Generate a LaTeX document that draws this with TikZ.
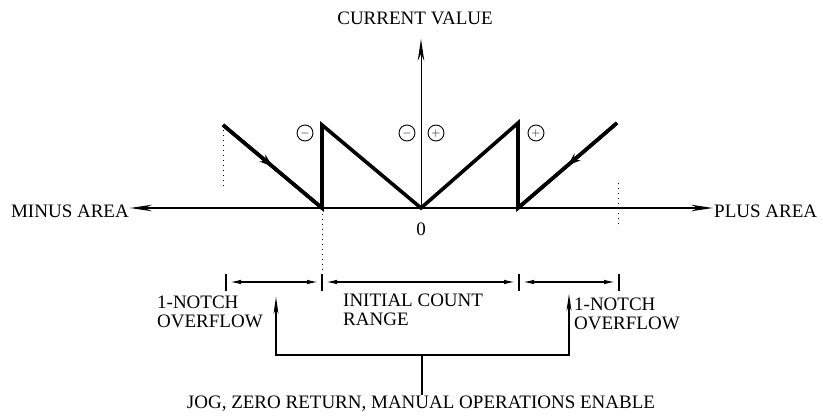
\documentclass[tikz,border=0pt]{standalone}
\usepackage{fontspec}
\setmainfont{Liberation Serif}
\usetikzlibrary{arrows.meta, decorations.markings, calc}

\begin{document}
\begin{tikzpicture}[x=1pt, y=-1pt,
  lbl/.style   = {font=\fontsize{19}{18.5}\selectfont, inner sep=1pt, align=left},
  axis/.style  = {line width=1.6pt, -{Stealth[length=22pt, width=6.5pt]}},
  saw/.style   = {line width=3.6pt, line join=miter},
  midarr/.style= {decoration={markings, mark=at position 0.5 with
                  {\arrow{Stealth[length=13pt, width=9pt]}}}, postaction=decorate},
  dots/.style  = {line width=1pt, dash pattern=on 1pt off 4pt},
  dim/.style   = {line width=1.2pt, {Latex[length=11pt, width=4.5pt]}-{Latex[length=11pt, width=4.5pt]},
                  shorten <=4pt, shorten >=4pt},
  brk/.style   = {line width=1.2pt, {Stealth[length=17pt, width=5pt]}-{Stealth[length=17pt, width=5pt]}},
  sign/.style  = {circle, draw, line width=0.9pt, inner sep=0pt, minimum size=16pt,
                  font=\fontsize{13}{13}\selectfont},
]
\useasboundingbox (0,0) rectangle (823,418);

% ── Axes ───────────────────────────────────────────────────────────────────
\coordinate (o)  at (421,208);
\coordinate (yt) at (421,39);
\node[lbl, anchor=east] (minus) at (130,211) {MINUS AREA};
\node[lbl, anchor=west] (plus)  at (713,211) {PLUS AREA};
\node[lbl]              (cv)    at (415,18)  {CURRENT VALUE};
\node[lbl]              (zero)  at (421,229) {0};
\draw[axis] (o) -- (minus.east |- o);
\draw[axis] (o) -- (plus.west |- o);
\draw[axis, line width=1pt] (o) -- (yt);

% ── Saw-tooth count ────────────────────────────────────────────────────────
\coordinate (a1) at (223,125);
\coordinate (b1) at (322,208);
\coordinate (b2) at (322,125);
\coordinate (c2) at (518,123);
\coordinate (c1) at (518,208);
\coordinate (d1) at (617,123);
\draw[saw] (a1) -- (b1) -- (b2) -- (o) -- (c2) -- (c1) -- (d1);
\draw[saw, midarr] (a1) -- (b1);
\draw[saw, midarr] (d1) -- (c1);

\node[sign] (m1) at (305,133) {$-$};
\node[sign] (m2) at (407,133) {$-$};
\node[sign] (p1) at (436,133) {$+$};
\node[sign] (p2) at (536,133) {$+$};

% ── Dotted guides ──────────────────────────────────────────────────────────
\draw[dots] (223,130) -- (223,190);
\draw[dots] (618,183) -- (618,228);
\draw[dots] (322,214) -- (322,277);

% ── Count ranges ───────────────────────────────────────────────────────────
\coordinate (r0) at (226,282);
\coordinate (r1) at (322,282);
\coordinate (r2) at (519,282);
\coordinate (r3) at (619,282);
\foreach \p in {r0, r1, r2, r3}
  \draw[line width=1.2pt] ($(\p)+(0,-8)$) -- ($(\p)+(0,9)$);
\foreach \a/\b in {r0/r1, r1/r2, r2/r3}
  \draw[dim] (\a) -- (\b);

\node[lbl, anchor=west] (ovl)  at (156,312) {1-NOTCH\\OVERFLOW};
\node[lbl, anchor=west] (init) at (342,310) {INITIAL COUNT\\RANGE};
\node[lbl, anchor=west] (ovr)  at (573,314) {1-NOTCH\\OVERFLOW};

% ── Enable bracket ─────────────────────────────────────────────────────────
\coordinate (lt) at (276,297);
\coordinate (lb) at (276,355);
\coordinate (rb) at (569,355);
\coordinate (rt) at (569,294);
\coordinate (bm) at (422,355);
\node[lbl] (jog) at (421,404) {JOG, ZERO RETURN, MANUAL OPERATIONS ENABLE};
\draw[brk] (lt) -- (lb) -- (rb) -- (rt);
\draw[line width=1.2pt] (bm) -- (bm |- jog.north);
\end{tikzpicture}
\end{document}
